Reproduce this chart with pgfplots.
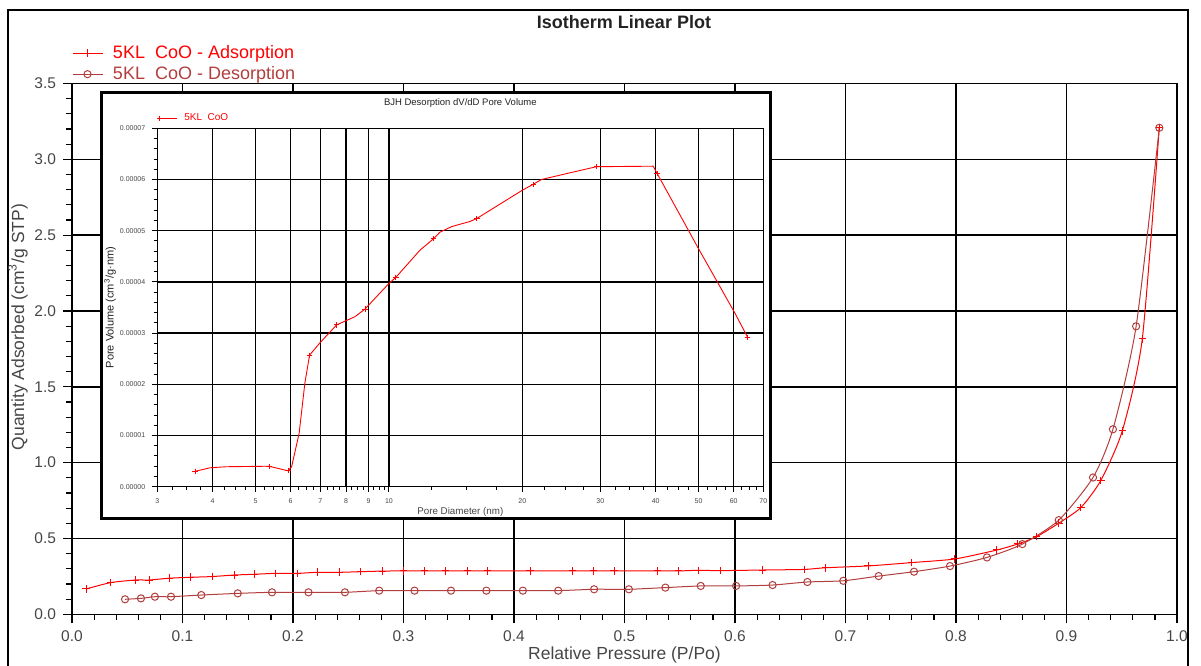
\documentclass[border=0pt]{standalone}
\usepackage{pgfplots}
\usepackage{pgfplotstable}
\pgfplotsset{compat=1.18}
\usepackage{fontspec}
\setmainfont{Liberation Sans}
\definecolor{adsred}{RGB}{255,0,0}
\definecolor{desred}{RGB}{178,62,62}
\definecolor{txtgray}{RGB}{70,70,70}
\definecolor{titlegray}{RGB}{35,35,35}

\pgfplotstableread{
P Q
0.0127 0.167
0.035 0.209
0.0576 0.226
0.0697 0.226
0.088 0.238
0.107 0.244
0.127 0.249
0.147 0.259
0.165 0.264
0.184 0.270
0.204 0.270
0.222 0.277
0.242 0.277
0.261 0.281
0.281 0.285
0.300 0.286
0.319 0.286
0.338 0.286
0.358 0.286
0.376 0.286
0.4145 0.286
0.453 0.286
0.472 0.286
0.4905 0.286
0.530 0.286
0.549 0.286
0.567 0.290
0.587 0.288
0.625 0.292
0.663 0.296
0.682 0.307
0.7206 0.319
0.760 0.341
0.799 0.365
0.837 0.424
0.856 0.464
0.873 0.512
0.893 0.601
0.913 0.704
0.931 0.882
0.9505 1.21
0.9686 1.817
0.984 3.21
}\adsorption

\pgfplotstableread{
P Q
0.048 0.099
0.0624 0.105
0.075 0.116
0.0896 0.116
0.117 0.127
0.150 0.138
0.181 0.145
0.214 0.145
0.247 0.145
0.278 0.156
0.310 0.156
0.343 0.156
0.375 0.156
0.408 0.156
0.440 0.156
0.4725 0.165
0.504 0.165
0.537 0.176
0.569 0.187
0.601 0.187
0.634 0.193
0.6655 0.213
0.698 0.221
0.730 0.252
0.762 0.281
0.7946 0.318
0.828 0.375
0.860 0.463
0.893 0.621
0.924 0.902
0.942 1.22
0.963 1.899
0.984 3.208
}\desorption

\pgfplotstableread{
D V
3.65 0.0000030
3.95 0.0000037
4.30 0.0000039
5.36 0.0000040
5.92 0.0000031
6.03 0.0000039
6.27 0.0000104
6.46 0.0000202
6.62 0.0000257
6.97 0.0000280
7.62 0.0000316
8.38 0.0000332
8.83 0.0000347
10.0 0.0000397
10.37 0.0000409
11.75 0.0000462
12.6 0.0000484
13.03 0.0000497
13.85 0.0000508
15.24 0.0000518
15.8 0.0000524
20.0 0.0000579
21.2 0.0000591
22.1 0.0000600
25.6 0.0000613
29.4 0.0000625
39.5 0.0000626
40.3 0.0000612
49.9 0.0000466
60.4 0.0000339
64.6 0.0000291
}\bjh

\begin{document}
\begin{tikzpicture}
\path[use as bounding box] (0pt,0pt) rectangle (600.5pt,332.5pt);
\draw[line width=1pt] (4pt,-2pt) -- (4pt,327.65pt) -- (594pt,327.65pt) -- (594pt,-2pt);
\node[font=\bfseries\fontsize{9}{10}\selectfont, text=titlegray] at (312pt,321.65pt) {Isotherm Linear Plot};

\begin{axis}[
  at={(36pt,25.35pt)}, anchor=south west,
  scale only axis, width=552.5pt, height=265.4pt,
  xmin=0, xmax=1, ymin=0, ymax=3.5,
  xtick={0,0.1,...,1.0}, ytick={0,0.5,...,3.5},
  minor x tick num=4, minor y tick num=4,
  /pgf/number format/fixed, /pgf/number format/fixed zerofill,
  /pgf/number format/precision=1, /pgf/number format/assume math mode=true,
  tick pos=left, tick align=outside,
  major tick length=4.5pt, minor tick length=3pt,
  every tick/.append style={black, line width=0.6pt},
  xmajorgrids, ymajorgrids,
  major grid style={black, line width=0.8pt},
  axis line style={black, line width=0.8pt},
  tick label style={font=\fontsize{7.75}{9}\selectfont, text=txtgray},
  xlabel={Relative Pressure (P/Po)},
  ylabel={Quantity Adsorbed (cm\textsuperscript{3}/g STP)},
  label style={font=\fontsize{8.75}{10}\selectfont, text=txtgray},
  xlabel style={at={(axis description cs:0.5,-0.0767)}, anchor=center},
  ylabel style={at={(axis description cs:-0.0489,0.541)}, anchor=center},
  legend cell align=left,
  legend style={at={(0,1)}, anchor=south west, draw=none, fill=none,
    inner sep=0pt, outer sep=0pt, column sep=3pt, row sep=-1.5pt,
    font=\fontsize{9}{10}\selectfont, yshift=-1.35pt},
  legend image code/.code={\draw[#1, mark repeat=2, mark phase=2] plot coordinates {(0pt,0pt) (7.5pt,0pt) (15pt,0pt)};},
]
\addplot[color=adsred, line width=0.5pt, mark=+, mark size=1.9pt, smooth, tension=0.4] table {\adsorption};
\addlegendentry{\textcolor{adsred}{5KL\ \ CoO - Adsorption}}
\addplot[color=desred, line width=0.5pt, mark=o, mark size=1.8pt, smooth, tension=0.4] table {\desorption};
\addlegendentry{\textcolor{desred}{5KL\ \ CoO - Desorption}}
\end{axis}

\draw[line width=1.5pt, fill=white] (50.5pt,73pt) rectangle (385pt,286pt);

\begin{axis}[
  at={(78.65pt,89.15pt)}, anchor=south west,
  scale only axis, width=303pt, height=179.2pt,
  xmode=log, xmin=3, xmax=70, ymin=0, ymax=0.00007,
  scaled y ticks=false,
  xtick={3,4,5,6,7,8,9,10,20,30,40,50,60,70},
  xticklabels={3,4,5,6,7,8,9,10,20,30,40,50,60,70},
  minor xtick={3.25,3.5,3.75,4.25,4.5,4.75,5.25,5.5,5.75,6.25,6.5,6.75,7.25,7.5,7.75,8.25,8.5,8.75,9.25,9.5,9.75,12.5,15,17.5,22.5,25,27.5,32.5,35,37.5,42.5,45,47.5,52.5,55,57.5,62.5,65,67.5},
  ytick={0,0.00001,0.00002,0.00003,0.00004,0.00005,0.00006,0.00007},
  yticklabels={0.00000,0.00001,0.00002,0.00003,0.00004,0.00005,0.00006,0.00007},
  minor y tick num=4,
  tick pos=left, tick align=outside,
  major tick length=2.5pt, minor tick length=1.5pt,
  every tick/.append style={black, line width=0.5pt},
  xmajorgrids, ymajorgrids,
  major grid style={black, line width=0.65pt},
  axis line style={black, line width=0.7pt},
  tick label style={font=\fontsize{3.5}{4}\selectfont, text=txtgray},
  xlabel={Pore Diameter (nm)},
  ylabel={Pore Volume (cm\textsuperscript{3}/g·nm)},
  xlabel style={font=\fontsize{4.9}{5.5}\selectfont, text=txtgray, at={(axis description cs:0.5,-0.0706)}, anchor=center},
  ylabel style={font=\fontsize{5.5}{6}\selectfont, text=titlegray, at={(axis description cs:-0.078,0.5)}, anchor=center},
  every axis title shift=0pt,
  title={BJH Desorption dV/dD Pore Volume},
  title style={at={(0.5,1)}, anchor=center, yshift=12.8pt, font=\fontsize{4.75}{5.5}\selectfont, text=titlegray},
  legend cell align=left,
  legend style={at={(0,1)}, anchor=south west, draw=none, fill=none,
    inner sep=0pt, outer sep=0pt, column sep=1.5pt,
    font=\fontsize{5}{6}\selectfont, yshift=0.5pt},
  legend image code/.code={\draw[#1, mark repeat=2, mark phase=2] plot coordinates {(0pt,0pt) (4.25pt,0pt) (8.5pt,0pt)};},
]
\addplot[color=adsred, line width=0.45pt, mark=+, mark size=1.3pt, mark indices={1,4,5,9,11,13,15,17,21,23,26,28,31}] table {\bjh};
\addlegendentry{\textcolor{adsred}{5KL\ \ CoO}}
\end{axis}
\end{tikzpicture}
\end{document}
